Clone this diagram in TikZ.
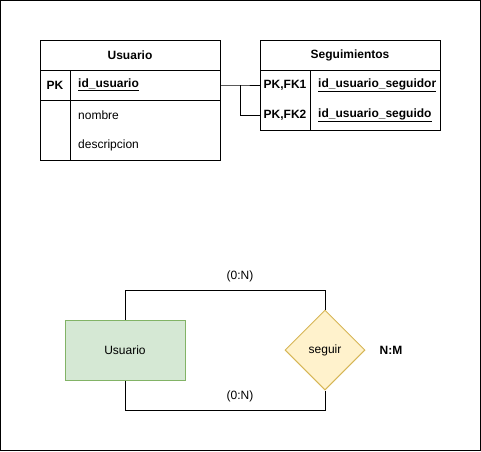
\documentclass[tikz,border=0pt]{standalone}
\usepackage{fontspec}
\setmainfont{Liberation Sans}
\usetikzlibrary{shapes.geometric}
\definecolor{entfill}{HTML}{D5E8D4}
\definecolor{entdraw}{HTML}{82B366}
\definecolor{relfill}{HTML}{FFF2CC}
\definecolor{reldraw}{HTML}{D6B656}
\tikzset{
  cell/.style={draw, line width=1pt, inner sep=0pt, minimum height=30pt},
  txt/.style={inner sep=0pt, font=\fontsize{12}{14}\selectfont},
  btxt/.style={txt, font=\fontsize{12}{14}\selectfont\bfseries},
  conn/.style={line width=1pt},
}
\begin{document}
\begin{tikzpicture}[x=1pt,y=-1pt]
\useasboundingbox (0,0) rectangle (481,451);
\draw[line width=1pt] (0.5,0.5) rectangle (480.5,450.5);
% Usuario table
\node[cell, minimum width=180pt, minimum height=120pt] (utab) at (130,100) {};
\node[cell, minimum width=180pt] (uhead) at (130,55) {};
\node[cell, minimum width=180pt] (urow) at (130,85) {};
\node[btxt] (utitle) at (130,55) {Usuario};
\node[btxt] (upk) at (55,85) {PK};
\node[btxt, anchor=west] (uid) at (78,85) {\underline{id\_usuario}};
\node[txt, anchor=west] (unom) at (78,115) {nombre};
\node[txt, anchor=west] (udesc) at (78,145) {descripcion};
\draw[conn] (70,70) -- (70,160);
% Seguimientos table
\node[cell, minimum width=180pt, minimum height=90pt] (stab) at (350,85) {};
\node[cell, minimum width=180pt] (shead) at (350,55) {};
\node[cell, minimum width=180pt, draw=none] (srow1) at (350,85) {};
\node[cell, minimum width=180pt, draw=none] (srow2) at (350,115) {};
\node[btxt] (stitle) at (350,55) {Seguimientos};
\node[btxt] (sfk1) at (285,85) {PK,FK1};
\node[btxt] (sfk2) at (285,115) {PK,FK2};
\node[btxt, anchor=west] (sid1) at (318,85) {\underline{id\_usuario\_seguidor}};
\node[btxt, anchor=west] (sid2) at (318,115) {\underline{id\_usuario\_seguido}};
\draw[conn] (310,70) -- (310,130);
% connectors
\coordinate (mid) at (240,85);
\draw[conn] (urow.east) -- (mid) -- (srow1.west);
\draw[conn] (mid) |- (srow2.west);
% ER part
\node[draw=entdraw, fill=entfill, line width=1pt, minimum width=120pt, minimum height=60pt, inner sep=0pt, font=\fontsize{12}{14}\selectfont] (ent) at (125,350) {Usuario};
\node[diamond, draw=reldraw, fill=relfill, line width=1pt, minimum width=80pt, minimum height=80pt, inner sep=0pt, aspect=1, font=\fontsize{12}{14}\selectfont] (rel) at (325,350) {seguir};
\draw[conn] (ent.north) -- (125,290) -- (325,290) -- (rel.north);
\draw[conn] (ent.south) -- (125,410) -- (325,410) -- (rel.south);
\node[txt] (c1) at (240,276) {(0:N)};
\node[txt] (c2) at (240,396) {(0:N)};
\node[btxt] (nm) at (391,350) {N:M};
\end{tikzpicture}
\end{document}
